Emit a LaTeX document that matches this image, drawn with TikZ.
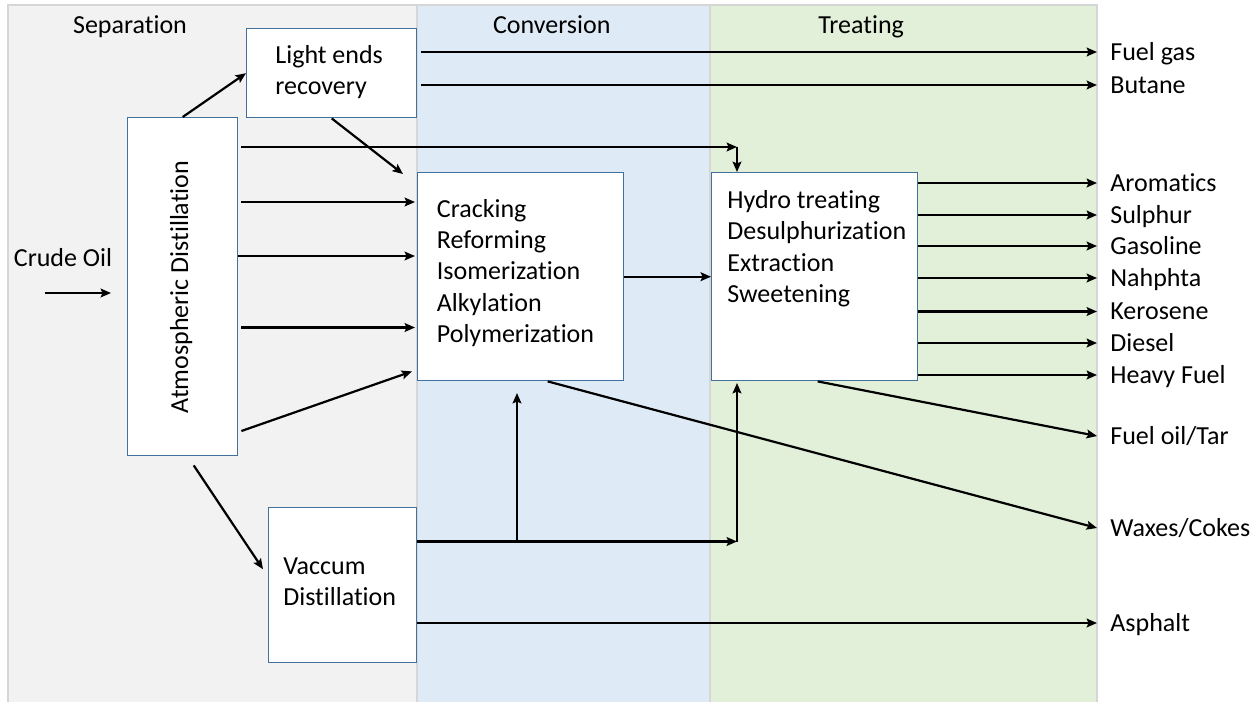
\documentclass[tikz,border=0pt]{standalone}
\usepackage{fontspec}
\setmainfont{Carlito}[Ligatures=NoCommon]
\usetikzlibrary{arrows.meta}
\definecolor{sepfill}{HTML}{F2F2F2}
\definecolor{convfill}{HTML}{DEEBF7}
\definecolor{treatfill}{HTML}{E2F0D9}
\definecolor{panelline}{HTML}{D6D6D6}
\definecolor{boxline}{HTML}{41719C}
\begin{document}
\begin{tikzpicture}[x=0.5pt,y=-0.5pt,
  font=\fontsize{13}{15.7}\selectfont,
  panel/.style={draw=panelline, line width=0.7pt},
  unit/.style={draw=boxline, fill=white, line width=0.7pt, anchor=north west, inner sep=0pt},
  txt/.style={anchor=base west, inner sep=0pt, align=flush left, text width=100pt},
  head/.style={anchor=base west, inner sep=0pt},
  product/.style={anchor=west, inner xsep=6.5pt, inner ysep=0pt, text height=8.4pt, text depth=0pt},
  flow/.style={line width=1.1pt, -{Stealth[length=5.2pt,width=4.4pt,inset=1pt]}}]

\useasboundingbox (0,0) rectangle (1260,702);
\fill[white] (0,0) rectangle (1260,702);

% stage panels
\draw[panel, fill=sepfill]   (8,5)   rectangle (417,708);
\draw[panel, fill=convfill]  (417,5) rectangle (710,708);
\draw[panel, fill=treatfill] (710,5) rectangle (1097,708);

\node[head] (hsep)   at (72.7,33.3) {Separation};
\node[head] (hconv)  at (492.7,33.3) {Conversion};
\node[head] (htreat) at (818,33.3) {Treating};

% process units
\node[unit, minimum width=85pt,  minimum height=44.5pt] (le)  at (246,28)  {};
\node[unit, minimum width=55pt,  minimum height=169pt]  (atm) at (127,117) {};
\node[unit, minimum width=103pt, minimum height=104pt]  (cr)  at (417,172) {};
\node[unit, minimum width=103pt, minimum height=104pt]  (ht)  at (711,172) {};
\node[unit, minimum width=74pt,  minimum height=77.5pt] (vd)  at (268,507) {};

\node[txt] (let) at (275,63.5)  {Light ends\\recovery};
\node[rotate=90, anchor=base, inner sep=0pt] (atmt) at (188,287) {Atmospheric Distillation};
\node[txt] (crt) at (436.5,217) {Cracking\\Reforming\\Isomerization\\Alkylation\\Polymerization};
\node[txt] (htt) at (727,208.5) {Hydro treating\\Desulphurization\\Extraction\\Sweetening};
\node[txt] (vdt) at (283,574.5) {Vaccum\\Distillation};
\node[anchor=base west, inner sep=0pt] (crude) at (13.5,266.5) {Crude Oil};

% products
\node[product] (fuelgas)  at (1097,52)    {Fuel gas};
\node[product] (butane)   at (1097,85)    {Butane};
\node[product] (arom)     at (1097,183)   {Aromatics};
\node[product] (sulphur)  at (1097,215)   {Sulphur};
\node[product] (gasoline) at (1097,246)   {Gasoline};
\node[product] (naphtha)  at (1097,278)   {Nahphta};
\node[product] (kero)     at (1097,311.5) {Kerosene};
\node[product] (diesel)   at (1097,343)   {Diesel};
\node[product] (heavy)    at (1097,375)   {Heavy Fuel};
\node[product] (fueloil)  at (1097,436)   {Fuel oil/Tar};
\node[product] (waxes)    at (1097,528)   {Waxes/Cokes};
\node[product] (asphalt)  at (1097,623)   {Asphalt};

% feed
\coordinate (crudein) at (45,293);
\draw[flow] (crudein) -- ([xshift=-8pt]atm.west |- crudein);

% separation stage
\draw[flow] (atm.north) -- (le.west);
\draw[flow] (le.south) -- ([shift={(-14,2)}]cr.north west);
\draw[flow] ([xshift=2pt]le.east |- fuelgas.west) -- (fuelgas.west);
\draw[flow] ([xshift=2pt]le.east |- butane.west) -- (butane.west);

\coordinate (bypass) at (737,147);
\draw[flow] ([xshift=1.5pt]atm.east |- bypass) -- (bypass);
\draw[flow] (bypass) -- (bypass |- ht.north);

\draw[flow] ([xshift=1.5pt]atm.east |- 0,202)   -- ([xshift=-1pt]cr.west |- 0,202);
\draw[flow] (atm.east |- 0,256)   -- ([xshift=-1pt]cr.west |- 0,256);
\draw[flow] ([xshift=1.5pt]atm.east |- 0,327.5) -- ([xshift=-1pt]cr.west |- 0,327.5);
\draw[flow] ([xshift=1.5pt]atm.east |- 0,431)   -- ([shift={(-5,-10)}]cr.south west);
\draw[flow] ([shift={(11,9)}]atm.south) -- ([shift={(-5,-16)}]vd.west);

% conversion and treating
\draw[flow] (cr.east) -- (ht.west);
\draw[flow] ([xshift=13.5pt]cr.south) -- (waxes.west);

\coordinate (vdsplit) at (517,541.5);
\coordinate (vdturn)  at (737,541.5);
\draw[flow] (vd.east |- vdturn) -- (vdturn);
\draw[flow] (vdsplit) -- ([yshift=-5.8pt]vdsplit |- cr.south);
\draw[flow] (vdturn) -- ([yshift=-0.8pt]vdturn |- ht.south);
\draw[flow] (vd.east |- asphalt.west) -- (asphalt.west);

\draw[flow] (ht.east |- arom.west)     -- (arom.west);
\draw[flow] (ht.east |- sulphur.west)  -- (sulphur.west);
\draw[flow] (ht.east |- gasoline.west) -- (gasoline.west);
\draw[flow] (ht.east |- naphtha.west)  -- (naphtha.west);
\draw[flow] (ht.east |- kero.west)     -- (kero.west);
\draw[flow] (ht.east |- diesel.west)   -- (diesel.west);
\draw[flow] (ht.east |- heavy.west)    -- (heavy.west);
\draw[flow] ([xshift=1.5pt]ht.south) -- (fueloil.west);
\end{tikzpicture}
\end{document}
